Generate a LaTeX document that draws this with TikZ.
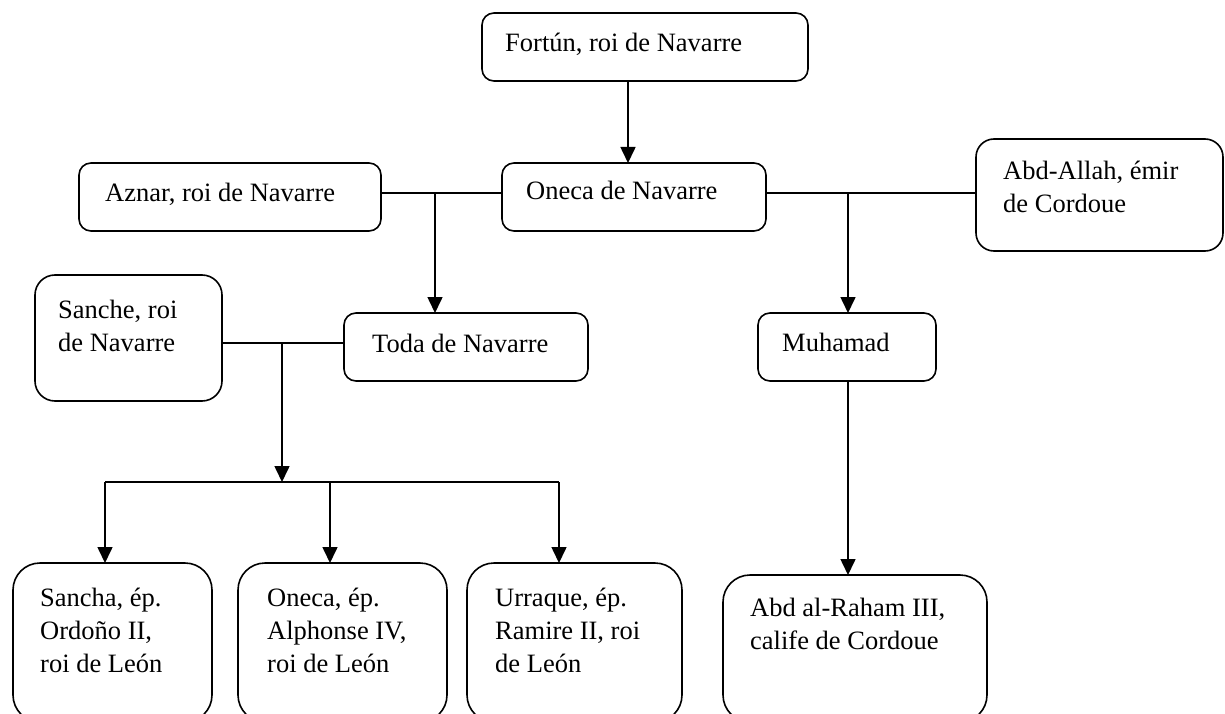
\documentclass[tikz,border=0pt]{standalone}
\usepackage{fontspec}
\setmainfont{Liberation Serif}
\usetikzlibrary{arrows.meta}
\newcommand{\lns}[1]{\begin{tabular}[t]{@{}l@{}}#1\end{tabular}}
\begin{document}
\begin{tikzpicture}[x=1pt,y=-1pt,
  box/.style={draw=black, line width=1.6pt, fill=white, rectangle, inner sep=0pt, outer sep=0pt, anchor=north west},
  conn/.style={draw=black, line width=1.6pt},
  arr/.style={conn, -{Triangle[width=15pt,length=16pt]}},
  txt/.style={anchor=base west, inner sep=0pt, font=\fontsize{26.5}{33}\selectfont}]
\useasboundingbox (0,0) rectangle (1225,714);
\clip (0,0) rectangle (1225,714);
% boxes
\node[box, rounded corners=12pt, minimum width=326pt, minimum height=68pt] (fortun) at (482,13) {};
\node[box, rounded corners=12pt, minimum width=302pt, minimum height=68pt] (aznar) at (79,163) {};
\node[box, rounded corners=12pt, minimum width=264pt, minimum height=68pt] (oneca) at (502,163) {};
\node[box, rounded corners=18pt, minimum width=247pt, minimum height=112pt] (abdallah) at (976,139) {};
\node[box, rounded corners=20pt, minimum width=187pt, minimum height=126pt] (sanche) at (35,275) {};
\node[box, rounded corners=12pt, minimum width=244pt, minimum height=68pt] (toda) at (344,313) {};
\node[box, rounded corners=12pt, minimum width=178pt, minimum height=68pt] (muhamad) at (758,313) {};
\node[box, rounded corners=27pt, minimum width=199pt, minimum height=159pt] (sancha) at (13,563) {};
\node[box, rounded corners=27pt, minimum width=209pt, minimum height=159pt] (onecaep) at (238,563) {};
\node[box, rounded corners=27pt, minimum width=215pt, minimum height=159pt] (urraque) at (467,563) {};
\node[box, rounded corners=27pt, minimum width=264pt, minimum height=147pt] (abdraham) at (723,575) {};
% texts
\node[txt] (tfortun) at (505,52) {Fortún, roi de Navarre};
\node[txt] (taznar) at (105,201) {Aznar, roi de Navarre};
\node[txt] (toneca) at (526,200) {Oneca de Navarre};
\node[txt] (tabdallah) at (1003,179) {\lns{Abd-Allah, émir\\de Cordoue}};
\node[txt] (tsanche) at (58,318) {\lns{Sanche, roi\\de Navarre}};
\node[txt] (ttoda) at (372,352) {Toda de Navarre};
\node[txt] (tmuhamad) at (782,351) {Muhamad};
\node[txt] (tsancha) at (40,606) {\lns{Sancha, ép.\\Ordoño II,\\roi de León}};
\node[txt] (tonecaep) at (267,606) {\lns{Oneca, ép.\\Alphonse IV,\\roi de León}};
\node[txt] (turraque) at (495,606) {\lns{Urraque, ép.\\Ramire II, roi\\de León}};
\node[txt] (tabdraham) at (750,616) {\lns{Abd al-Raham III,\\calife de Cordoue}};
% junctions
\coordinate (f) at (628,0);
\coordinate (m1) at (435,193);
\coordinate (m2) at (848,193);
\coordinate (m3) at (282,343);
\coordinate (m4) at (282,482);
\coordinate (b1) at (105,482);
\coordinate (b2) at (330,482);
\coordinate (b3) at (559,482);
% connectors
\draw[arr] (fortun.south -| f) -- (oneca.north -| f);
\draw[conn] (aznar.east |- m1) -- (oneca.west |- m1);
\draw[arr] (m1) -- (m1 |- toda.north);
\draw[conn] (oneca.east |- m2) -- (abdallah.west |- m2);
\draw[arr] (m2) -- (m2 |- muhamad.north);
\draw[arr] (muhamad.south -| m2) -- (m2 |- abdraham.north);
\draw[conn] (sanche.east |- m3) -- (toda.west |- m3);
\draw[arr] (m3) -- (m4);
\draw[conn] (b1) -- (b3);
\draw[arr] (b1) -- (b1 |- sancha.north);
\draw[arr] (b2) -- (b2 |- onecaep.north);
\draw[arr] (b3) -- (b3 |- urraque.north);
\end{tikzpicture}
\end{document}
